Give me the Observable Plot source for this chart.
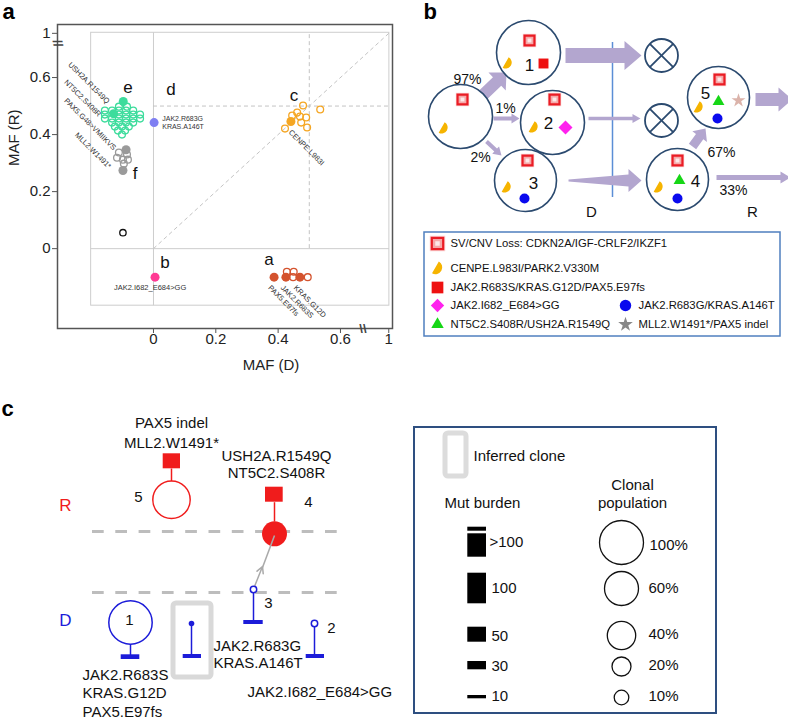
<!DOCTYPE html>
<html><head><meta charset="utf-8">
<script src="https://cdn.jsdelivr.net/npm/d3@7"></script>
<script src="https://cdn.jsdelivr.net/npm/@observablehq/plot@0.6"></script>
<style>
body{margin:0;background:#fff;}
#wrap{position:relative;width:788px;height:720px;overflow:hidden;}
#wrap svg{position:absolute;left:0;top:0;}
</style></head><body><div id="wrap"></div>
<script>
const FONT = '"Liberation Sans", Arial, Helvetica, sans-serif';

// ================= Panel a : MAF(D) vs MAF(R) =================
const greenOpen = [
 [-0.111,0.498],[-0.085,0.498],
 [-0.156,0.484],[-0.133,0.484],[-0.111,0.484],[-0.088,0.484],[-0.065,0.484],
 [-0.156,0.470],[-0.111,0.470],[-0.088,0.470],[-0.065,0.470],[-0.043,0.470],
 [-0.156,0.456],[-0.133,0.456],[-0.111,0.456],[-0.088,0.456],[-0.065,0.456],[-0.043,0.456],
 [-0.133,0.442],[-0.111,0.442],[-0.088,0.442],[-0.065,0.442],
 [-0.124,0.428],[-0.101,0.428],[-0.079,0.428],
 [-0.114,0.414],[-0.091,0.414],
 [-0.101,0.400]
];
const greenFilled = [[-0.097,0.516],[-0.128,0.473]];
const grayOpen = [[-0.111,0.337],[-0.085,0.330],[-0.117,0.319],[-0.098,0.312],[-0.082,0.312],[-0.095,0.298]];
const grayFilled = [[-0.088,0.347],[-0.098,0.274]];
const purpleFilled = [[0.002,0.442]];
const orangeOpen = [[0.48,0.502],[0.535,0.488],[0.445,0.467],[0.461,0.477],[0.47,0.463],[0.49,0.46],[0.474,0.442],[0.493,0.425],[0.422,0.421]];
const orangeFilled = [[0.441,0.446]];
const pinkFilled = [[0.005,-0.1]];
const redFilled = [[0.387,-0.1],[0.425,-0.1],[0.47,-0.1]];
const redOpen = [[0.428,-0.081],[0.45,-0.081],[0.448,-0.1],[0.495,-0.1]];
const blackOpen = [[-0.098,0.056]];

const tickValues = [0, 0.2, 0.4, 0.6, 0.755];
const tickLabels = ["0", "0.2", "0.4", "0.6", "1"];
const groupLetters = ["a","b","c","d","e","f"];
const groupLetterPos = [[0.371,-0.039],[0.037,-0.049],[0.451,0.537],[0.056,0.558],[-0.082,0.565],[-0.059,0.263]];
const leftMutLabels = ["USH2A.R1549Q","NT5C2.S408R","PAX5.G48>VMIIKVS","MLL2.W1491*"];
const leftMutPos = [[-0.145,0.513],[-0.172,0.467],[-0.124,0.35],[-0.14,0.285]];
const rightMutLabels = ["CENPE.L983I","PAX5.E97fs","JAK2.R683S","KRAS.G12D"];
const rightMutPos = [[0.438,0.412],[0.372,-0.133],[0.412,-0.133],[0.454,-0.133]];
const dMutLabels = ["JAK2.R683G","KRAS.A146T"];
const dMutPos = [[0.028,0.457],[0.028,0.426]];
const bMutLabel = ["JAK2.I682_E684>GG"];
const bMutPos = [[-0.011,-0.137]];

const pts = (arr) => arr.map(([x,y]) => ({x,y}));
const withPos = (labels, pos) => labels.map((t,i) => ({t, x: pos[i][0], y: pos[i][1]}));
const tickMap = new Map(tickValues.map((v,i)=>[v,tickLabels[i]]));

const cGreen = "#3ddc9c", cGray = "#9a9a9a", cPurple = "#7f7ff2", cOrange = "#f5a623",
      cPink = "#ff3b94", cRed = "#d4532e";

const A = Plot.plot({
  width: 394, height: 370,
  marginLeft: 57, marginRight: 2, marginTop: 24, marginBottom: 42,
  x: {domain: [-0.308, 0.767]},
  y: {domain: [-0.28, 0.786]},
  style: {fontFamily: FONT, background: "transparent", overflow: "visible"},
  marks: [
    Plot.rect([{x1:-0.2,x2:0.757,y1:-0.2,y2:0.757}], {x1:"x1",x2:"x2",y1:"y1",y2:"y2", fill:"none", stroke:"#cdcdcd", strokeWidth:1}),
    Plot.ruleX([0], {y1:()=>-0.2, y2:()=>0.757, stroke:"#cdcdcd", strokeWidth:1}),
    Plot.ruleY([0], {x1:()=>-0.2, x2:()=>0.757, stroke:"#cdcdcd", strokeWidth:1}),
    Plot.ruleX([0.5], {y1:()=>0, y2:()=>0.757, stroke:"#c4c4c4", strokeDasharray:"4,3", strokeWidth:1}),
    Plot.ruleY([0.5], {x1:()=>0, x2:()=>0.757, stroke:"#c4c4c4", strokeDasharray:"4,3", strokeWidth:1}),
    Plot.link([{x1:0,y1:0,x2:0.757,y2:0.757}], {x1:"x1",y1:"y1",x2:"x2",y2:"y2", stroke:"#c4c4c4", strokeDasharray:"4,3", strokeWidth:1}),
    Plot.frame({stroke:"#555", strokeWidth:1.5}),
    Plot.axisX(tickValues, {tickFormat: d => tickMap.get(d), tickSize:5, tickPadding:0, fontSize:15, stroke:"#555", fill:"#222", label:null}),
    Plot.axisY(tickValues, {tickFormat: d => tickMap.get(d), tickSize:5, tickPadding:2, fontSize:15, stroke:"#555", fill:"#222", label:null}),
    Plot.text([{t:"\\\\", x:0.672, y:-0.28}], {x:"x", y:"y", text:"t", fontSize:13, fill:"#444", fontWeight:"bold"}),
    Plot.text([{t:"//", x:-0.308, y:0.72}], {x:"x", y:"y", text:"t", fontSize:13, fill:"#444", fontWeight:"bold", rotate:80}),
    Plot.dot(pts(greenOpen), {x:"x", y:"y", r:3.4, stroke:cGreen, strokeWidth:1.3, fill:"none"}),
    Plot.dot(pts(greenFilled), {x:"x", y:"y", r:4.5, fill:cGreen}),
    Plot.dot(pts(grayOpen), {x:"x", y:"y", r:3.4, stroke:cGray, strokeWidth:1.3, fill:"none"}),
    Plot.dot(pts(grayFilled), {x:"x", y:"y", r:4.5, fill:cGray}),
    Plot.dot(pts(purpleFilled), {x:"x", y:"y", r:4.5, fill:cPurple}),
    Plot.dot(pts(orangeOpen), {x:"x", y:"y", r:3.4, stroke:cOrange, strokeWidth:1.3, fill:"none"}),
    Plot.dot(pts(orangeFilled), {x:"x", y:"y", r:4.5, fill:cOrange}),
    Plot.dot(pts(pinkFilled), {x:"x", y:"y", r:4.5, fill:cPink}),
    Plot.dot(pts(redOpen), {x:"x", y:"y", r:3.4, stroke:cRed, strokeWidth:1.3, fill:"none"}),
    Plot.dot(pts(redFilled), {x:"x", y:"y", r:4.5, fill:cRed}),
    Plot.dot(pts(blackOpen), {x:"x", y:"y", r:3.2, stroke:"#111", strokeWidth:1.3, fill:"none"}),
    Plot.text(withPos(groupLetters, groupLetterPos), {x:"x", y:"y", text:"t", fontSize:17, fill:"#111"}),
    Plot.text(withPos(leftMutLabels, leftMutPos), {x:"x", y:"y", text:"t", fontSize:7.5, fill:"#333", rotate:45, textAnchor:"end"}),
    Plot.text(withPos(rightMutLabels, rightMutPos), {x:"x", y:"y", text:"t", fontSize:7.5, fill:"#333", rotate:45, textAnchor:"start"}),
    Plot.text(withPos(dMutLabels, dMutPos), {x:"x", y:"y", text:"t", fontSize:7, fill:"#333", textAnchor:"start"}),
    Plot.text(withPos(bMutLabel, bMutPos), {x:"x", y:"y", text:"t", fontSize:7.5, fill:"#333"}),
    Plot.text([{t:"MAF (D)", x:0.377, y:-0.41}], {x:"x", y:"y", text:"t", fontSize:15, fill:"#222"}),
    Plot.text([{t:"MAF (R)", x:-0.448, y:0.389}], {x:"x", y:"y", text:"t", fontSize:15, fill:"#222", rotate:-90})
  ]
});

// ================= Panels b and c : clonal diagrams (pixel layout) =================
const panelLetters = ["a","b","c"];
const panelLetterPos = [[2,11],[423,11],[1,408]];

// ---- panel b ----
const bPercents = ["97%","1%","2%","67%","33%"];
const bPercentPos = [[467,79],[505,108],[480,157],[721,152],[733,190]];
const bCloneNums = ["1","2","3","4","5"];
const bCloneNumPos = [[529,65],[548,123],[533,183],[695,181],[705,93]];
const bCircles = [[460,116,32],[528,52,32],[552,122,32],[525,180,31],[677,179,31],[718,97,31]];
const bDead = [[661,55,16.5],[661,120,16.5]];
const bStages = ["D","R"];
const bStagePos = [[591,212],[752,212]];
// [x1,y1,x2,y2, tailWidth, shaftWidth, headWidth, headLength]
const bArrowSpecs = [
  [483,94,506,72,12,12,25,13],
  [493,118,519,118,4,4,10,8],
  [486,141,501,155,4,4,10,8],
  [565,55,641,55,15,15,29,17],
  [588,118,640,118,3.5,3.5,9,8],
  [568,180,641,180,2,12,23,13],
  [692,146,705,128,9,9,18,10],
  [716,177,790,177,5,5,12,10],
  [755,99,792,99,13,13,24,14]
];
const svPos = [[462,99],[529,40],[554,99],[527,160],[677,160],[719,79]];
const cenpePos = [[443,128],[507,63],[533,127],[506,187],[658,187],[698,107]];
const jakSPos = [[543,63]];
const jakIPos = [[565,127]];
const jakGPos = [[524,198],[677,198],[717,118]];
const ntPos = [[679,180],[718,101]];
const mllPos = [[738,100]];

const bLegendLabels = ["SV/CNV Loss: CDKN2A/IGF-CRLF2/IKZF1","CENPE.L983I/PARK2.V330M","JAK2.R683S/KRAS.G12D/PAX5.E97fs","JAK2.I682_E684>GG","JAK2.R683G/KRAS.A146T","NT5C2.S408R/USH2A.R1549Q","MLL2.W1491*/PAX5 indel"];
const bLegendPos = [[437,243],[437,268],[437,287],[437,305],[625,305],[437,324],[625,324]];
const bLegendBox = {x1:424, x2:780, y1:232, y2:336};

// ---- panel c ----
const cStages = ["R","D"];
const cStagePos = [[65,505],[65,620]];
const cDashY = [531, 592];
const cTopLabels = ["PAX5 indel","MLL2.W1491*","USH2A.R1549Q","NT5C2.S408R"];
const cTopLabelPos = [[171,423],[171,443],[276,456],[276,473]];
const cBotLabels = ["JAK2.R683S","KRAS.G12D","PAX5.E97fs","JAK2.R683G","KRAS.A146T","JAK2.I682_E684>GG"];
const cBotLabelPos = [[82,675],[82,693],[82,712],[213,646],[213,663],[247,692]];
const cCloneNums = ["5","4","1","3","2"];
const cCloneNumPos = [[138,497],[308,502],[129,620],[268,603],[331,628]];
const cRedSquares = [[162.7,180,453.3,468.3],[265,282.7,486.7,501.7]];
const cRedStems = [[171,468,171,481],[274,501.7,274,521]];
const cBlueStems = [[130,643.7,130,655],[191,623,191,655],[253,592,253,621],[314,626,314,655]];
const cBlueBars = [[120.7,139.3,654.3,659],[182.7,201,654,658],[243.3,262.7,620,624],[305.7,324,654,658]];

const legCBox = {x1:414, x2:716, y1:427, y2:713};
const burdenLabels = [">100","100","50","30","10"];
const burdenLabelPos = [[489,542],[491,588],[491,636],[491,666],[491,696]];
const burdenBars = [[526.7,530.7],[533.3,556.7],[572.7,603.3],[626.7,641.7],[661,669.3],[695,698.3]];
const popLabels = ["100%","60%","40%","20%","10%"];
const popLabelPos = [[649,545],[648,588],[648,634],[648,665],[648,696]];
const popCircles = [[621,542,22],[621,588,17],[621,635,14.2],[621,666,9.5],[621,697,7.3]];

// helpers
const T = (labels, pos) => labels.map((t,i)=>({t, x:pos[i][0], y:pos[i][1]}));
const P = (arr) => arr.map(([x,y])=>({x,y}));
const C = (arr) => arr.map(([x,y,r])=>({x,y,r}));
function arrowPoly(id,x1,y1,x2,y2,w0,w1,hw,hl){
  const dx=x2-x1, dy=y2-y1, L=Math.hypot(dx,dy), ux=dx/L, uy=dy/L, nx=-uy, ny=ux;
  const bx=x2-ux*hl, by=y2-uy*hl;
  return [[x1+nx*w0/2,y1+ny*w0/2],[bx+nx*w1/2,by+ny*w1/2],[bx+nx*hw/2,by+ny*hw/2],[x2,y2],
          [bx-nx*hw/2,by-ny*hw/2],[bx-nx*w1/2,by-ny*w1/2],[x1-nx*w0/2,y1-ny*w0/2]].map(([x,y])=>({id,x,y}));
}
const arrowPts = bArrowSpecs.flatMap((s,i)=>arrowPoly(i,...s));
const halfMoon = {draw(ctx, size){
  const r = Math.sqrt(size/Math.PI), a0 = -Math.PI/3, mid = a0+Math.PI/2;
  const cx = -0.35*r*Math.cos(mid), cy = -0.35*r*Math.sin(mid);
  ctx.moveTo(cx + r*Math.cos(a0), cy + r*Math.sin(a0));
  ctx.arc(cx, cy, r, a0, a0+Math.PI);
  ctx.closePath();
}};
const crossLines = bDead.flatMap(([x,y,r])=>{const k=r*0.707; return [{x1:x-k,y1:y-k,x2:x+k,y2:y+k},{x1:x-k,y1:y+k,x2:x+k,y2:y-k}];});

const navy = "#2b4a6f", lav = "#b3a6cf", svRed = "#ea1c24", cR = "#f01c1c", cB = "#1c1cd9";
const legIcons = [
  {x:437,y:243,kind:"sv"},{x:437,y:268,kind:"cenpe"},{x:437,y:287,kind:"jakS"},{x:437,y:305,kind:"jakI"},
  {x:625,y:305,kind:"jakG"},{x:437,y:324,kind:"nt"},{x:625,y:324,kind:"mll"}
];
const legOf = k => legIcons.filter(d=>d.kind===k);

function svMarks(arr, s){
  return [
    Plot.dot(arr, {x:"x", y:"y", symbol:"square", r:7.6*s, fill:"#fbd3d3"}),
    Plot.dot(arr, {x:"x", y:"y", symbol:"square", r:5.6*s, fill:"#f5a8a8", stroke:svRed, strokeWidth:2.2}),
    Plot.dot(arr, {x:"x", y:"y", symbol:"square", r:2.2*s, fill:"#fde8e8"})
  ];
}

const D = Plot.plot({
  width: 788, height: 720, margin: 0,
  x: {type:"identity", axis:null}, y: {type:"identity", axis:null}, r: {type:"identity"},
  style: {fontFamily: FONT, background: "transparent", overflow: "visible"},
  marks: [
    Plot.text(T(panelLetters, panelLetterPos), {x:"x", y:"y", text:"t", fontSize:22, fontWeight:"bold", textAnchor:"start", fill:"#000"}),
    // panel b
    Plot.ruleX([612], {y1:()=>42, y2:()=>197, stroke:"#5b8ed6", strokeWidth:1.5}),
    Plot.line(arrowPts, {x:"x", y:"y", z:"id", fill:lav, stroke:"none"}),
    Plot.dot(C(bCircles), {x:"x", y:"y", r:"r", fill:"white", stroke:navy, strokeWidth:1.6}),
    Plot.dot(C(bDead), {x:"x", y:"y", r:"r", fill:"white", stroke:navy, strokeWidth:1.8}),
    Plot.link(crossLines, {x1:"x1", y1:"y1", x2:"x2", y2:"y2", stroke:navy, strokeWidth:1.8}),
    ...svMarks(P(svPos), 1),
    Plot.dot(P(cenpePos), {x:"x", y:"y", symbol:halfMoon, r:6, fill:"#f6b400"}),
    Plot.dot(P(jakSPos), {x:"x", y:"y", symbol:"square", r:5.6, fill:"#ee1111"}),
    Plot.dot(P(jakIPos), {x:"x", y:"y", symbol:"diamond2", r:6.3, fill:"#ff22ee"}),
    Plot.dot(P(jakGPos), {x:"x", y:"y", r:5, fill:"#0a0aee"}),
    Plot.dot(P(ntPos), {x:"x", y:"y", symbol:"triangle", r:4.4, fill:"#16d616"}),
    Plot.dot(P(mllPos), {x:"x", y:"y", symbol:"star", r:4.4, fill:"#dbb3aa"}),
    Plot.text(T(bCloneNums, bCloneNumPos), {x:"x", y:"y", text:"t", fontSize:17, fill:"#111"}),
    Plot.text(T(bPercents, bPercentPos), {x:"x", y:"y", text:"t", fontSize:14, fill:"#111"}),
    Plot.text(T(bStages, bStagePos), {x:"x", y:"y", text:"t", fontSize:15, fill:"#111"}),
    // legend b
    Plot.rect([bLegendBox], {x1:"x1", x2:"x2", y1:"y1", y2:"y2", fill:"none", stroke:"#4f7fbf", strokeWidth:1.5}),
    ...svMarks(legOf("sv"), 1.15),
    Plot.dot(legOf("cenpe"), {x:"x", y:"y", symbol:halfMoon, r:6.8, fill:"#f6b400"}),
    Plot.dot(legOf("jakS"), {x:"x", y:"y", symbol:"square", r:6.6, fill:"#ee1111"}),
    Plot.dot(legOf("jakI"), {x:"x", y:"y", symbol:"diamond2", r:6, fill:"#ff22ee"}),
    Plot.dot(legOf("jakG"), {x:"x", y:"y", r:5.7, fill:"#0a0aee"}),
    Plot.dot(legOf("nt"), {x:"x", y:"y", symbol:"triangle", r:4.6, fill:"#16d616"}),
    Plot.dot(legOf("mll"), {x:"x", y:"y", symbol:"star", r:4.6, fill:"#888"}),
    Plot.text(bLegendLabels.map((t,i)=>({t, x:bLegendPos[i][0]+13, y:bLegendPos[i][1]})), {x:"x", y:"y", text:"t", fontSize:11.3, fill:"#111", textAnchor:"start"}),
    // panel c
    Plot.text(T(cStages, cStagePos), {x:"x", y:"y", text:"t", fontSize:17, fill: (d)=>d.t==="R"?cR:cB}),
    Plot.ruleY(cDashY, {x1:()=>92, x2:()=>338, stroke:"#bdbdbd", strokeWidth:3, strokeDasharray:"11.7,11.6"}),
    Plot.rect([{x1:173,x2:211,y1:603,y2:677}], {x1:"x1",x2:"x2",y1:"y1",y2:"y2", fill:"none", stroke:"#d9d9d9", strokeWidth:5, rx:3}),
    Plot.link(cRedStems.map(([x1,y1,x2,y2])=>({x1,y1,x2,y2})), {x1:"x1",y1:"y1",x2:"x2",y2:"y2", stroke:cR, strokeWidth:1.5}),
    Plot.rect(cRedSquares.map(([x1,x2,y1,y2])=>({x1,x2,y1,y2})), {x1:"x1",x2:"x2",y1:"y1",y2:"y2", fill:cR}),
    Plot.dot([{x:171,y:499.3,r:18.7}], {x:"x", y:"y", r:"r", fill:"white", stroke:cR, strokeWidth:1.5}),
    Plot.dot([{x:274,y:533.3,r:12.5}], {x:"x", y:"y", r:"r", fill:cR}),
    Plot.link([{x1:262,y1:567,x2:274,y2:535}], {x1:"x1",y1:"y1",x2:"x2",y2:"y2", stroke:"#aaa", strokeWidth:1.5}),
    Plot.arrow([{x1:254,y1:586,x2:262,y2:566}], {x1:"x1",y1:"y1",x2:"x2",y2:"y2", stroke:"#aaa", strokeWidth:1.5, headLength:12, headAngle:55}),
    Plot.link(cBlueStems.map(([x1,y1,x2,y2])=>({x1,y1,x2,y2})), {x1:"x1",y1:"y1",x2:"x2",y2:"y2", stroke:cB, strokeWidth:1.5}),
    Plot.rect(cBlueBars.map(([x1,x2,y1,y2])=>({x1,x2,y1,y2})), {x1:"x1",x2:"x2",y1:"y1",y2:"y2", fill:cB}),
    Plot.dot([{x:130,y:622,r:21.7}], {x:"x", y:"y", r:"r", fill:"white", stroke:cB, strokeWidth:1.5}),
    Plot.dot([{x:191,y:623}], {x:"x", y:"y", r:2.8, fill:cB}),
    Plot.dot([{x:253,y:589},{x:314,y:623}], {x:"x", y:"y", r:3.2, fill:"white", stroke:cB, strokeWidth:1.5}),
    Plot.text(T(cCloneNums, cCloneNumPos), {x:"x", y:"y", text:"t", fontSize:15, fill:"#111"}),
    Plot.text(T(cTopLabels, cTopLabelPos), {x:"x", y:"y", text:"t", fontSize:15, fill:"#111"}),
    Plot.text(T(cBotLabels, cBotLabelPos), {x:"x", y:"y", text:"t", fontSize:15, fill:"#111", textAnchor:"start"}),
    // legend c
    Plot.rect([legCBox], {x1:"x1",x2:"x2",y1:"y1",y2:"y2", fill:"none", stroke:"#2e4f80", strokeWidth:2}),
    Plot.rect([{x1:445,x2:466,y1:433,y2:476}], {x1:"x1",x2:"x2",y1:"y1",y2:"y2", fill:"none", stroke:"#dcdcdc", strokeWidth:5, rx:3}),
    Plot.text([{t:"Inferred clone",x:473,y:456},{t:"Mut burden",x:444,y:503}], {x:"x", y:"y", text:"t", fontSize:15, fill:"#111", textAnchor:"start"}),
    Plot.text([{t:"Clonal",x:632,y:485},{t:"population",x:632,y:503}], {x:"x", y:"y", text:"t", fontSize:15, fill:"#111"}),
    Plot.rect(burdenBars.map(([y1,y2])=>({y1,y2})), {x1:()=>467.3, x2:()=>486, y1:"y1", y2:"y2", fill:"#000"}),
    Plot.text(T(burdenLabels, burdenLabelPos), {x:"x", y:"y", text:"t", fontSize:15, fill:"#111", textAnchor:"start"}),
    Plot.dot(C(popCircles), {x:"x", y:"y", r:"r", fill:"none", stroke:"#111", strokeWidth:1.3}),
    Plot.text(T(popLabels, popLabelPos), {x:"x", y:"y", text:"t", fontSize:15, fill:"#111", textAnchor:"start"})
  ]
});

const wrap = document.getElementById("wrap");
wrap.appendChild(A);
wrap.appendChild(D);
</script></body></html>
